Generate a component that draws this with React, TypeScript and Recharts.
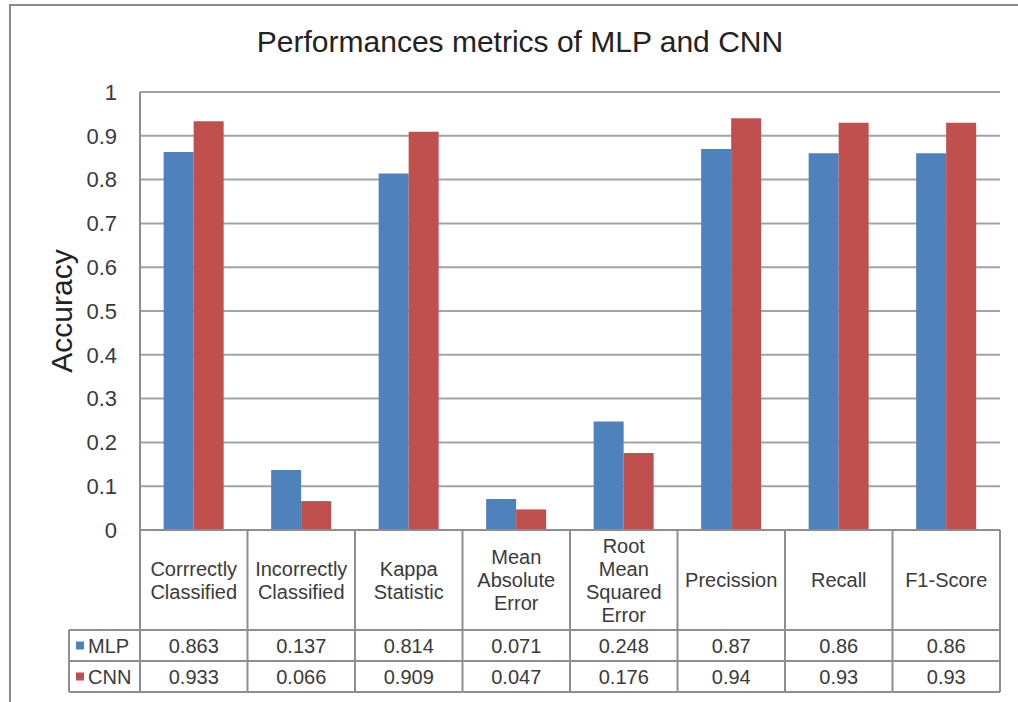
import { BarChart, Bar, XAxis, YAxis, CartesianGrid } from "recharts";

const categories = [
  "Corrrectly\nClassified",
  "Incorrectly\nClassified",
  "Kappa\nStatistic",
  "Mean\nAbsolute\nError",
  "Root\nMean\nSquared\nError",
  "Precission",
  "Recall",
  "F1-Score",
];
const mlp = [0.863, 0.137, 0.814, 0.071, 0.248, 0.87, 0.86, 0.86];
const cnn = [0.933, 0.066, 0.909, 0.047, 0.176, 0.94, 0.93, 0.93];
const yTicks = [0, 0.1, 0.2, 0.3, 0.4, 0.5, 0.6, 0.7, 0.8, 0.9, 1];

const data = categories.map((name, i) => ({ name, MLP: mlp[i], CNN: cnn[i] }));

const BLUE = "#4f81bd";
const RED = "#c0504d";
const LINE = "#8e8e8e";
const TEXT = "#3a3a3a";
const FONT = "'Liberation Sans', Arial, sans-serif";

const PLOT_LEFT = 140;
const PLOT_RIGHT = 1000;
const COL_W = (PLOT_RIGHT - PLOT_LEFT) / categories.length;
const HEAD_H = 100;
const ROW_H = 31;

function TableTick(props: any) {
  const { x, y, payload, index } = props;
  const lines = String(payload.value).split("\n");
  const left = x - COL_W / 2;
  const right = x + COL_W / 2;
  const r1 = y + HEAD_H;
  const r2 = r1 + ROW_H;
  const r3 = r2 + ROW_H;
  const mid = y + HEAD_H / 2;
  const legendLeft = 69;
  return (
    <g fontFamily={FONT} fontSize={20} fill={TEXT}>
      <line x1={left} x2={left} y1={y} y2={r3} stroke={LINE} strokeWidth={2} />
      {index === categories.length - 1 && (
        <line x1={right} x2={right} y1={y} y2={r3} stroke={LINE} strokeWidth={2} />
      )}
      <line x1={left} x2={right} y1={r1} y2={r1} stroke={LINE} strokeWidth={2} />
      <line x1={left} x2={right} y1={r2} y2={r2} stroke={LINE} strokeWidth={2} />
      <line x1={left} x2={right} y1={r3} y2={r3} stroke={LINE} strokeWidth={2} />
      {lines.map((l, i) => (
        <text
          key={i}
          x={x}
          y={mid + (i - (lines.length - 1) / 2) * 23}
          textAnchor="middle"
          dominantBaseline="central"
          fill={TEXT}
        >
          {l}
        </text>
      ))}
      <text x={x} y={r1 + ROW_H / 2} textAnchor="middle" dominantBaseline="central" fill={TEXT}>
        {String(mlp[index])}
      </text>
      <text x={x} y={r2 + ROW_H / 2} textAnchor="middle" dominantBaseline="central" fill={TEXT}>
        {String(cnn[index])}
      </text>
      {index === 0 && (
        <g>
          <line x1={legendLeft} x2={left} y1={r1} y2={r1} stroke={LINE} strokeWidth={2} />
          <line x1={legendLeft} x2={left} y1={r2} y2={r2} stroke={LINE} strokeWidth={2} />
          <line x1={legendLeft} x2={left} y1={r3} y2={r3} stroke={LINE} strokeWidth={2} />
          <line x1={legendLeft} x2={legendLeft} y1={r1} y2={r3} stroke={LINE} strokeWidth={2} />
          <rect x={76} y={r1 + ROW_H / 2 - 4} width={8} height={8} fill={BLUE} />
          <text x={88} y={r1 + ROW_H / 2} dominantBaseline="central" fill={TEXT}>
            MLP
          </text>
          <rect x={76} y={r2 + ROW_H / 2 - 4} width={8} height={8} fill={RED} />
          <text x={88} y={r2 + ROW_H / 2} dominantBaseline="central" fill={TEXT}>
            CNN
          </text>
        </g>
      )}
    </g>
  );
}

function AxisTitle(props: any) {
  const { viewBox } = props;
  const cy = viewBox.y + viewBox.height / 2;
  return (
    <text
      x={61}
      y={cy}
      transform={`rotate(-90 61 ${cy})`}
      textAnchor="middle"
      dominantBaseline="central"
      fontFamily={FONT}
      fontSize={30}
      fill="#222"
    >
      Accuracy
    </text>
  );
}

export default function App() {
  return (
    <div
      style={{
        position: "absolute",
        left: 0,
        top: 0,
        width: 1018,
        height: 702,
        overflow: "hidden",
        background: "#fff",
      }}
    >
      <div
        style={{
          position: "absolute",
          left: 9,
          top: 4,
          width: 1040,
          height: 720,
          border: "2px solid #8a8a8a",
        }}
      />
      <div
        style={{
          position: "absolute",
          left: 0,
          top: 25,
          width: 1040,
          textAlign: "center",
          fontFamily: FONT,
          fontSize: 30,
          lineHeight: "34px",
          color: "#222",
        }}
      >
        Performances metrics of MLP and CNN
      </div>
      <div style={{ position: "absolute", left: 0, top: 0 }}>
        <BarChart
          width={1018}
          height={702}
          data={data}
          margin={{ top: 92, right: 18, bottom: 10, left: 0 }}
          barCategoryGap="22%"
          barGap={0}
        >
          <CartesianGrid vertical={false} stroke="#a3a3a3" strokeWidth={2} />
          <XAxis
            dataKey="name"
            interval={0}
            tickLine={false}
            tickSize={0}
            tickMargin={0}
            height={162}
            axisLine={{ stroke: LINE, strokeWidth: 2 }}
            tick={(p: any) => <TableTick {...p} />}
          />
          <YAxis
            width={140}
            domain={[0, 1]}
            ticks={yTicks}
            interval={0}
            tickLine={false}
            tickSize={0}
            tickMargin={23}
            axisLine={{ stroke: LINE, strokeWidth: 2 }}
            tick={{ fontSize: 22, fill: TEXT, fontFamily: FONT }}
            label={<AxisTitle />}
          />
          <Bar dataKey="MLP" fill={BLUE} isAnimationActive={false} />
          <Bar dataKey="CNN" fill={RED} isAnimationActive={false} />
        </BarChart>
      </div>
    </div>
  );
}
